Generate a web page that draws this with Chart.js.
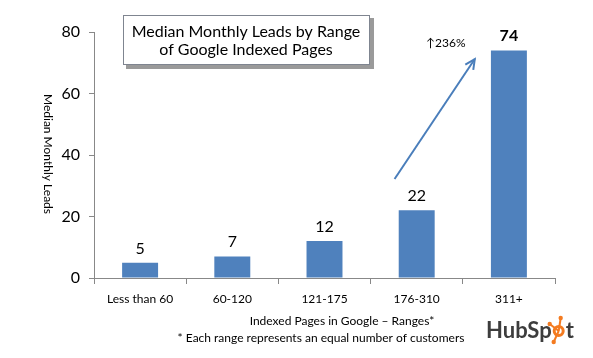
<!DOCTYPE html>
<html><head><meta charset="utf-8">
<script src="https://cdn.jsdelivr.net/npm/chart.js@4.4.1/dist/chart.umd.min.js"></script>
<style>html,body{margin:0;padding:0;background:#fff;}#wrap{width:593px;height:358px;position:relative;}</style>
</head><body><div id="wrap"><canvas id="c" width="593" height="358"></canvas></div>
<script>
const categories = ["Less than 60", "60-120", "121-175", "176-310", "311+"];
const leads = [5, 7, 12, 22, 74];
const boldLabel = [false, false, false, false, true];
const yTicks = [0, 20, 40, 60, 80];
const titleLines = ["Median Monthly Leads by Range", "of Google Indexed Pages"];
const xTitle = "Indexed Pages in Google \u2013 Ranges*";
const footnote = "* Each range represents an equal number of customers";
const yTitle = "Median Monthly Leads";
const growthLabel = "\u2191236%";
const arrowFrom = {cat: 2.76, val: 32.2};
const arrowTo = {cat: 3.63, val: 71.2};

const FONT = "Lato, 'Open Sans', sans-serif";

const decor = {
  id: 'decor',
  afterDatasetsDraw(chart) {
    const ctx = chart.ctx;
    const x = chart.scales.x, y = chart.scales.y;
    const meta = chart.getDatasetMeta(0);
    ctx.save();
    // value labels
    ctx.fillStyle = '#000';
    ctx.textAlign = 'center';
    ctx.textBaseline = 'alphabetic';
    meta.data.forEach((b, i) => {
      ctx.font = (boldLabel[i] ? "bold " : "") + "16px " + FONT;
      ctx.fillText(String(leads[i]), b.x, b.y - 9);
    });
    // arrow
    const x1 = x.getPixelForValue(arrowFrom.cat), y1 = y.getPixelForValue(arrowFrom.val);
    const x2 = x.getPixelForValue(arrowTo.cat), y2 = y.getPixelForValue(arrowTo.val);
    ctx.strokeStyle = '#4A7EBB';
    ctx.lineWidth = 2;
    ctx.beginPath(); ctx.moveTo(x1, y1); ctx.lineTo(x2, y2); ctx.stroke();
    const ang = Math.atan2(y2 - y1, x2 - x1);
    ctx.beginPath();
    ctx.moveTo(x2 - 11 * Math.cos(ang - 0.45), y2 - 11 * Math.sin(ang - 0.45));
    ctx.lineTo(x2, y2);
    ctx.lineTo(x2 - 11 * Math.cos(ang + 0.45), y2 - 11 * Math.sin(ang + 0.45));
    ctx.stroke();
    // growth label
    ctx.fillStyle = '#000';
    ctx.font = "12px " + FONT;
    ctx.textAlign = 'left'; ctx.textBaseline = 'middle';
    ctx.fillText(growthLabel, 426, 43);
    // title box
    ctx.fillStyle = '#9a9a9a';
    ctx.fillRect(126, 18, 248, 51);
    ctx.fillStyle = '#fff';
    ctx.fillRect(123, 15, 247, 50);
    ctx.strokeStyle = '#7f8590';
    ctx.lineWidth = 1;
    ctx.strokeRect(123.5, 15.5, 246, 49);
    ctx.fillStyle = '#000';
    ctx.font = "16px " + FONT;
    ctx.textAlign = 'center';
    ctx.fillText(titleLines[0], 246, 32);
    ctx.fillText(titleLines[1], 246, 50);
    // y title rotated (reads top to bottom)
    ctx.save();
    ctx.translate(48, 154);
    ctx.rotate(Math.PI / 2);
    ctx.font = "12px " + FONT;
    ctx.fillText(yTitle, 0, 0);
    ctx.restore();
    // x title + footnote
    ctx.font = "12px " + FONT;
    ctx.fillText(xTitle, 342, 321);
    ctx.fillText(footnote, 321, 338);
    // HubSpot logo
    ctx.textAlign = 'left'; ctx.textBaseline = 'alphabetic';
    ctx.font = "bold 22px " + FONT;
    ctx.fillStyle = '#3d3d3d';
    let lx = 486;
    ctx.fillText("HubSp", lx, 338);
    lx += ctx.measureText("HubSp").width;
    const cx = lx + 7, cy = 331;
    ctx.strokeStyle = '#f47b20'; ctx.fillStyle = '#f47b20';
    ctx.lineWidth = 3;
    ctx.beginPath(); ctx.arc(cx, cy, 4.5, 0, Math.PI * 2); ctx.stroke();
    ctx.lineWidth = 2;
    [[2, -13], [-9, -7], [-5, 11]].forEach(([dx, dy]) => {
      ctx.beginPath(); ctx.moveTo(cx, cy); ctx.lineTo(cx + dx, cy + dy); ctx.stroke();
      ctx.beginPath(); ctx.arc(cx + dx, cy + dy, 2.2, 0, Math.PI * 2); ctx.fill();
    });
    ctx.fillStyle = '#3d3d3d';
    ctx.fillText("t", lx + 14, 338);
    ctx.restore();
  }
};

new Chart(document.getElementById('c'), {
  type: 'bar',
  data: {
    labels: categories,
    datasets: [{ data: leads, backgroundColor: '#4F81BD', borderWidth: 0,
      barPercentage: 0.78, categoryPercentage: 0.5 }]
  },
  options: {
    responsive: false,
    animation: false,
    devicePixelRatio: 1,
    layout: { padding: { top: 32, right: 38, left: 0, bottom: 0 } },
    plugins: { legend: { display: false }, tooltip: { enabled: false }, title: { display: false } },
    scales: {
      x: {
        grid: { display: true, drawOnChartArea: false, drawTicks: true, tickLength: 6, color: '#888', offset: true },
        border: { display: true, color: '#888', width: 1 },
        ticks: { color: '#000', font: { family: FONT, size: 12 }, padding: 8, maxRotation: 0 },
        afterFit(s) { s.height = 80; }
      },
      y: {
        min: 0, max: 80,
        grid: { display: true, drawOnChartArea: false, drawTicks: true, tickLength: 5, color: '#888' },
        border: { display: true, color: '#888', width: 1 },
        ticks: { stepSize: 20, color: '#000', font: { family: FONT, size: 16 }, padding: 9,
          callback: (v) => yTicks.includes(v) ? String(v) : '' },
        afterFit(s) { s.width = 94; }
      }
    }
  },
  plugins: [decor]
});
</script></body></html>
